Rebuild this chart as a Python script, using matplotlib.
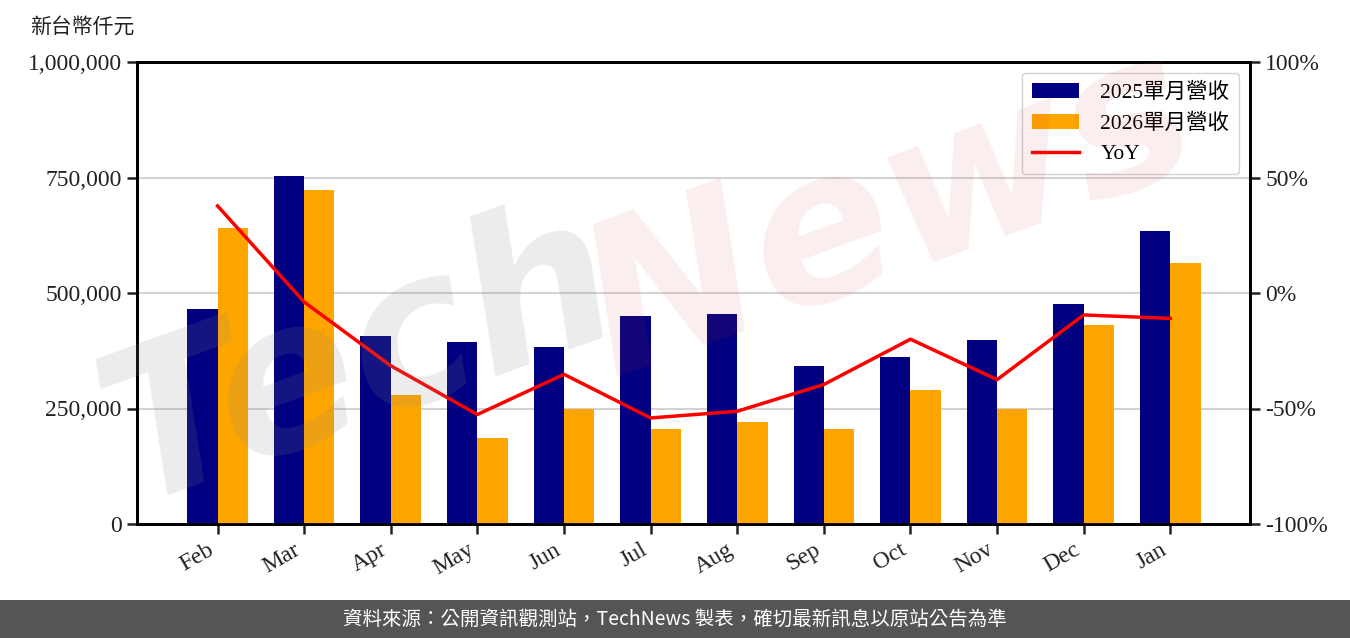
import matplotlib
matplotlib.use("Agg")
import matplotlib.pyplot as plt
import numpy as np
from matplotlib.ticker import FuncFormatter, FixedLocator

plt.rcParams['font.family'] = ['Liberation Serif', 'Noto Sans CJK TC', 'DejaVu Sans']

months = ['Feb', 'Mar', 'Apr', 'May', 'Jun', 'Jul', 'Aug', 'Sep', 'Oct', 'Nov', 'Dec', 'Jan']
rev_2025 = [465000, 753000, 407000, 394000, 383000, 450000, 455000, 342000, 361000, 398000, 476000, 634000]
rev_2026 = [641000, 723000, 279000, 186000, 249000, 206000, 221000, 206000, 290000, 249000, 431000, 565000]
yoy = [37.7, -3.9, -31.5, -52.6, -35.2, -54.1, -51.2, -39.6, -20.0, -37.5, -9.5, -11.0]

left_label = '新台幣仟元'
legend_labels = ['2025單月營收', '2026單月營收', 'YoY']
footer = '資料來源：公開資訊觀測站，TechNews 製表，確切最新訊息以原站公告為準'

W, H = 1350, 638
fig = plt.figure(figsize=(W / 100, H / 100), dpi=100)
ax = fig.add_axes([137 / W, 1 - 524 / H, (1250 - 137) / W, (524 - 62) / H])
ax2 = ax.twinx()

x = np.arange(len(months))
bw = 0.35
b1 = ax.bar(x - bw / 2, rev_2025, bw, color='#000080', zorder=3, label=legend_labels[0])
b2 = ax.bar(x + bw / 2, rev_2026, bw, color='#FFA500', zorder=3, label=legend_labels[1])
ax.set_xlim(-0.93, 11.92)
ax.set_ylim(0, 1000000)
ax.yaxis.set_major_locator(FixedLocator([0, 250000, 500000, 750000, 1000000]))
ax.yaxis.set_major_formatter(FuncFormatter(lambda v, p: f'{int(v):,}'))
ax.grid(axis='y', color='#d3d3d3', linewidth=1.5, zorder=0)
ax.set_axisbelow(True)
ax.set_xticks(x)
ax.set_xticklabels(months, rotation=30, ha='right', rotation_mode='default')

l1, = ax2.plot(x, yoy, color='#FF0000', linewidth=2.5, label=legend_labels[2], zorder=4)
ax2.set_ylim(-100, 100)
ax2.yaxis.set_major_locator(FixedLocator([-100, -50, 0, 50, 100]))
ax2.yaxis.set_major_formatter(FuncFormatter(lambda v, p: f'{int(v)}%'.replace('\u2212', '-')))

for a in (ax, ax2):
    for s in a.spines.values():
        s.set_linewidth(2)
    a.tick_params(axis='both', which='major', labelsize=17, length=7, width=1.8,
                  colors='#222222', labelcolor='#222222', pad=4)

ax2.legend([b1, b2, l1], legend_labels, loc='upper right', fontsize=15.5,
           frameon=True, fancybox=True, framealpha=0.9, edgecolor='#cccccc',
           handlelength=2.2, borderpad=0.45, labelspacing=0.5, handletextpad=1.0)

fig.text(30 / W, 1 - 27 / H, left_label, fontsize=15, family=['Noto Sans CJK TC'], va='center', ha='left', color='#222222')

# watermark
fig.text(360 / W, 1 - 360 / H, 'Tech', fontsize=150, fontweight='bold', fontstyle='italic',
         family=['DejaVu Sans'], color=(0.55, 0.55, 0.55, 0.16), rotation=20,
         ha='center', va='center', zorder=10)
fig.text(890 / W, 1 - 215 / H, 'News', fontsize=150, fontweight='bold', fontstyle='italic',
         family=['DejaVu Sans'], color=(0.85, 0.25, 0.25, 0.09), rotation=20,
         ha='center', va='center', zorder=10)

# footer band
fig.patches.append(plt.Rectangle((0, 0), 1, 38 / H, transform=fig.transFigure,
                                 facecolor='#555555', edgecolor='none', zorder=0))
fig.text(0.5, 19 / H, footer, fontsize=14, family=['Noto Sans CJK TC'], color='white',
         ha='center', va='center')

fig.savefig('out.png', dpi=100)
